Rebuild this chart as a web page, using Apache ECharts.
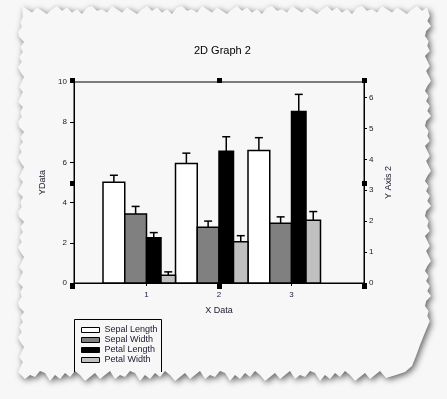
<!DOCTYPE html>
<html>
<head>
<meta charset="utf-8">
<script src="https://cdn.jsdelivr.net/npm/echarts@6/dist/echarts.min.js"></script>
<style>
  html, body { margin: 0; padding: 0; background: #f7f7f7; }
  #chart { width: 447px; height: 399px; }
</style>
</head>
<body>
<div id="chart"></div>
<script>
// data (iris means, with sd as error bars)
const groups = [1, 2, 3];
const xTicks = [1, 2, 3];
const leftTicks = [0, 2, 4, 6, 8, 10];
const rightTicks = [0, 1, 2, 3, 4, 5, 6];

const sepalLength = [5.01, 5.94, 6.59];
const sepalLengthSD = [0.35, 0.52, 0.64];
const sepalWidth = [3.43, 2.77, 2.97];
const sepalWidthSD = [0.38, 0.31, 0.32];
// petal series go on the right axis
const petalLength = [1.46, 4.26, 5.55];
const petalLengthSD = [0.17, 0.47, 0.55];
const petalWidth = [0.25, 1.33, 2.03];
const petalWidthSD = [0.11, 0.20, 0.28];

const TXT = '#1a1a2e';
const FONT = 'Liberation Sans, Arial, sans-serif';

// bar + upper error bar, placed between x+lo and x+hi (x units)
function barRenderer(lo, hi, fill) {
  return function (params, api) {
    const x = api.value(0), y = api.value(1), e = api.value(2);
    const tl = api.coord([x + lo, y]);
    const br = api.coord([x + hi, 0]);
    const mid = (tl[0] + br[0]) / 2;
    const errTop = api.coord([x, y + e])[1];
    return {
      type: 'group',
      children: [
        { type: 'rect', shape: { x: tl[0], y: tl[1], width: br[0] - tl[0], height: br[1] - tl[1] },
          style: { fill: fill, stroke: '#000', lineWidth: 1.5 } },
        { type: 'line', shape: { x1: mid, y1: tl[1], x2: mid, y2: errTop },
          style: { stroke: '#000', lineWidth: 1.5 } },
        { type: 'line', shape: { x1: mid - 4, y1: errTop, x2: mid + 4, y2: errTop },
          style: { stroke: '#000', lineWidth: 1.5 } }
      ]
    };
  };
}

function rows(vals, sd) {
  return groups.map((g, i) => [g, vals[i], sd[i]]);
}

// torn paper outline (decoration only)
function tornPaper() {
  const jag = [0, 2, 4, 1, 3, 5, 2, 0, 3, 1, 4, 2, 5, 1, 0, 3, 2, 4];
  const pts = [];
  let i = 0;
  for (let x = 22; x <= 428; x += 5, i++) pts.push([x, 6 + jag[i % jag.length] * 1.6]);
  for (let y = 16; y <= 325; y += 5, i++) pts.push([425 + jag[i % jag.length] * 1.2, y]);
  pts.push([424, 335], [420, 345], [416, 356], [412, 366], [405, 372], [396, 375], [386, 378]);
  for (let x = 380; x >= 24; x -= 5, i++) pts.push([x, 371 + jag[i % jag.length] * 2]);
  for (let y = 372; y >= 16; y -= 5, i++) pts.push([18 + jag[i % jag.length] * 1.2, y]);
  return pts;
}

const handles = [
  [70, 78], [217, 78], [362, 78],
  [70, 181], [362, 181],
  [70, 284], [217, 284], [362, 284]
];

const chart = echarts.init(document.getElementById('chart'), null, { renderer: 'canvas' });

chart.setOption({
  backgroundColor: '#f7f7f7',
  animation: false,
  textStyle: { fontFamily: FONT },
  title: {
    text: '2D Graph 2',
    left: 189, top: 40,
    textStyle: { fontSize: 11, fontWeight: 'normal', color: '#000', fontFamily: FONT }
  },
  grid: { left: 74, right: 83, top: 82, bottom: 116, show: true, borderColor: '#000', borderWidth: 1 },
  xAxis: {
    type: 'value', min: 0, max: 4, interval: 1,
    name: 'X Data', nameLocation: 'middle', nameGap: 23,
    nameTextStyle: { fontSize: 9, color: TXT },
    axisLine: { lineStyle: { color: '#000', width: 1 } },
    axisTick: { length: 3, lineStyle: { color: '#000' } },
    axisLabel: { fontSize: 8, color: '#22224a', margin: 8,
      formatter: v => xTicks.includes(v) ? String(v) : '' },
    splitLine: { show: false }
  },
  yAxis: [{
    type: 'value', min: 0, max: 10, interval: 2, position: 'left',
    name: 'YData', nameLocation: 'middle', nameGap: 24, nameRotate: 90,
    nameTextStyle: { fontSize: 9, color: TXT },
    axisLine: { show: true, lineStyle: { color: '#000', width: 1 } },
    axisTick: { show: true, length: 4, lineStyle: { color: '#000' } },
    axisLabel: { fontSize: 8, color: TXT, margin: 7,
      formatter: v => leftTicks.includes(v) ? String(v) : '' },
    splitLine: { show: false }
  }, {
    type: 'value', min: 0, max: 6.5, interval: 1, position: 'right',
    name: 'Y Axis 2', nameLocation: 'middle', nameGap: 14, nameRotate: 90,
    nameTextStyle: { fontSize: 9, color: TXT },
    axisLine: { show: true, lineStyle: { color: '#000', width: 1 } },
    axisTick: { show: true, length: 3, lineStyle: { color: '#000' } },
    axisLabel: { fontSize: 8, color: TXT, margin: 5,
      formatter: v => rightTicks.includes(v) ? String(v) : '' },
    splitLine: { show: false }
  }],
  legend: {
    orient: 'vertical', left: 81, top: 325,
    itemWidth: 18, itemHeight: 5, itemGap: 0, padding: 0,
    textStyle: { fontSize: 9, color: TXT, lineHeight: 10 },
    data: [
      { name: 'Sepal Length', icon: 'rect', itemStyle: { color: '#ffffff', borderColor: '#000', borderWidth: 1 } },
      { name: 'Sepal Width', icon: 'rect', itemStyle: { color: '#808080', borderColor: '#000', borderWidth: 1 } },
      { name: 'Petal Length', icon: 'rect', itemStyle: { color: '#000000', borderColor: '#000', borderWidth: 1 } },
      { name: 'Petal Width', icon: 'rect', itemStyle: { color: '#c0c0c0', borderColor: '#000', borderWidth: 1 } }
    ]
  },
  graphic: [
    { type: 'polygon', z: -10, shape: { points: tornPaper() },
      style: { fill: '#f7f7f7', shadowColor: 'rgba(0,0,0,0.6)', shadowBlur: 6, shadowOffsetX: 2, shadowOffsetY: 2 } },
    { type: 'polyline', z: 5, shape: { points: [[74.5, 372], [74.5, 319.5], [161.5, 319.5], [161.5, 372]] },
      style: { stroke: '#000', lineWidth: 1, fill: null } }
  ].concat(handles.map(h => ({
    type: 'rect', z: 10, shape: { x: h[0], y: h[1], width: 5, height: 5 }, style: { fill: '#000' }
  }))),
  series: [
    { name: 'Sepal Length', type: 'custom', xAxisIndex: 0, yAxisIndex: 0,
      itemStyle: { color: '#ffffff' }, renderItem: barRenderer(-0.6, -0.3, '#ffffff'),
      encode: { x: 0, y: 1 }, data: rows(sepalLength, sepalLengthSD) },
    { name: 'Sepal Width', type: 'custom', xAxisIndex: 0, yAxisIndex: 0,
      itemStyle: { color: '#808080' }, renderItem: barRenderer(-0.3, 0, '#808080'),
      encode: { x: 0, y: 1 }, data: rows(sepalWidth, sepalWidthSD) },
    { name: 'Petal Length', type: 'custom', xAxisIndex: 0, yAxisIndex: 1,
      itemStyle: { color: '#000000' }, renderItem: barRenderer(0, 0.2, '#000000'),
      encode: { x: 0, y: 1 }, data: rows(petalLength, petalLengthSD) },
    { name: 'Petal Width', type: 'custom', xAxisIndex: 0, yAxisIndex: 1,
      itemStyle: { color: '#c0c0c0' }, renderItem: barRenderer(0.2, 0.4, '#c0c0c0'),
      encode: { x: 0, y: 1 }, data: rows(petalWidth, petalWidthSD) }
  ]
});
</script>
</body>
</html>
